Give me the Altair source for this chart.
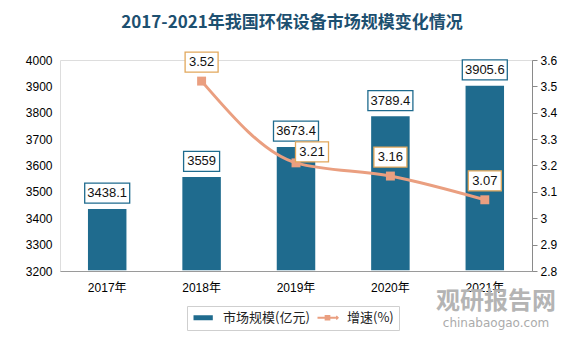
import altair as alt
import pandas as pd

years = ["2017年", "2018年", "2019年", "2020年", "2021年"]
market = [3438.1, 3559, 3673.4, 3789.4, 3905.6]
growth = [None, 3.52, 3.21, 3.16, 3.07]
series = ["市场规模(亿元)", "增速(%)"]
left_ticks = [3200, 3300, 3400, 3500, 3600, 3700, 3800, 3900, 4000]
right_ticks = [2.8, 2.9, 3.0, 3.1, 3.2, 3.3, 3.4, 3.5, 3.6]

BAR = "#1F6B8E"
LINE = "#EA9F80"
FONT = "Liberation Sans, Noto Sans CJK SC"
CJK = "Noto Sans CJK SC"

df = pd.DataFrame({"year": years, "market": market, "growth": growth})
leg = pd.DataFrame({"series": series})

W, H = 472, 211

xenc = alt.X("year:N", sort=years, title=None,
             scale=alt.Scale(paddingInner=0, paddingOuter=0),
             axis=alt.Axis(labelAngle=0, ticks=False, domainColor="#9a9a9a",
                           labelPadding=11, labelFontSize=12, labelColor="#000000",
                           labelFont=FONT, grid=False))
xplain = alt.X("year:N", sort=years)

lscale = alt.Scale(domain=[3200, 4000])
rscale = alt.Scale(domain=[2.8, 3.6])

base = alt.Chart(df)

bars = base.mark_bar(size=40, color=BAR, stroke="white", strokeWidth=1.5, clip=True).encode(
    x=xenc,
    y=alt.Y("market:Q", scale=lscale, title=None,
            axis=alt.Axis(values=left_ticks, format="d", domain=False, ticks=False,
                          grid=False, labelPadding=8, labelFontSize=12,
                          labelColor="#000000", labelFont=FONT)),
    y2=alt.Y2(datum=3200),
)

long_box = "M-4.5,-2H4.5V2H-4.5Z"
short_box = "M-3.6,-2H3.6V2H-3.6Z"
tiny_box = "M-3.3,-2H3.3V2H-3.3Z"

ylnone = alt.Y("market:Q", scale=lscale, axis=None)

bar_lab = base.transform_calculate(
    lbl="format(datum.market, '.1~f')", n="length(format(datum.market, '.1~f'))"
)
bar_box_long = bar_lab.transform_filter("datum.n > 4").mark_point(
    shape=long_box, size=100, filled=False, fill="white", fillOpacity=1,
    stroke=BAR, strokeWidth=1.3, opacity=1, yOffset=-15).encode(x=xplain, y=ylnone)
bar_box_short = bar_lab.transform_filter("datum.n <= 4").mark_point(
    shape=short_box, size=100, filled=False, fill="white", fillOpacity=1,
    stroke=BAR, strokeWidth=1.3, opacity=1, yOffset=-15).encode(x=xplain, y=ylnone)
bar_text = bar_lab.mark_text(font=FONT, fontSize=13, color="#111111",
                             baseline="middle", dy=-15).encode(
    x=xplain, y=ylnone, text="lbl:N")

gbase = base.transform_filter("isValid(datum.growth)")

line = gbase.mark_line(color=LINE, strokeWidth=3, interpolate="monotone").encode(
    x=xplain,
    y=alt.Y("growth:Q", scale=rscale, title=None,
            axis=alt.Axis(orient="right", values=right_ticks, format=".1~f",
                          domainColor="#8a8a8a", tickColor="#8a8a8a", tickSize=5,
                          labelPadding=3, grid=False, labelFontSize=12,
                          labelColor="#000000", labelFont=FONT)),
)
yrnone = alt.Y("growth:Q", scale=rscale, axis=None)
pts = gbase.mark_point(shape="square", size=80, filled=True, color=LINE, opacity=1).encode(
    x=xplain, y=yrnone)

g_lab = gbase.transform_calculate(lbl="format(datum.growth, '.2f')")
g_main = g_lab.transform_filter("datum.year != '2019年'")
g_side = g_lab.transform_filter("datum.year == '2019年'")

g_box1 = g_main.mark_point(shape=tiny_box, size=100, filled=False, fill="white",
                           fillOpacity=1, stroke="#E2A85C", strokeWidth=1.3, opacity=1,
                           yOffset=-19).encode(x=xplain, y=yrnone)
g_txt1 = g_main.mark_text(font=FONT, fontSize=13, color="#111111", baseline="middle",
                          dy=-19).encode(x=xplain, y=yrnone, text="lbl:N")
g_box2 = g_side.mark_point(shape=tiny_box, size=100, filled=False, fill="white",
                           fillOpacity=1, stroke="#E2A85C", strokeWidth=1.3, opacity=1,
                           xOffset=16, yOffset=-11).encode(x=xplain, y=yrnone)
g_txt2 = g_side.mark_text(font=FONT, fontSize=13, color="#111111", baseline="middle",
                          dx=16, dy=-11).encode(x=xplain, y=yrnone, text="lbl:N")

bar_sym = "M-1,-0.5H2.86V0.5H-1Z"
line_sym = ("M-1,-0.2H2.5V0.2H-1Z M0.43,-0.57H1.57V0.57H0.43Z "
            "M2.4,0L2.86,-0.45L3.3,0L2.86,0.45Z")

legend_props = dict(title=None, orient="none", direction="horizontal",
                    legendX=127, legendY=246, strokeColor="#cfcfcf",
                    padding=5, labelFont=CJK, labelFontSize=13,
                    labelColor="#222222", labelOffset=18,
                    columnPadding=6, symbolStrokeWidth=0, symbolOpacity=1)

legend_layer = alt.Chart(leg).mark_point(filled=True, size=196, clip=True, opacity=1).encode(
    x=alt.value(-2000), y=alt.value(-2000),
    color=alt.Color("series:N", sort=series,
                    scale=alt.Scale(domain=series, range=[BAR, LINE]),
                    legend=alt.Legend(**legend_props)),
    shape=alt.Shape("series:N", sort=series,
                    scale=alt.Scale(domain=series, range=[bar_sym, line_sym]),
                    legend=alt.Legend(**legend_props)),
)

wm1 = alt.Chart(leg).transform_filter("datum.series == '增速(%)'").mark_text(
    text="观研报告网", font=CJK, fontSize=24, fontWeight="bold", color="#b4b4b4",
    align="center", baseline="middle").encode(x=alt.value(436), y=alt.value(242))
wm2 = alt.Chart(leg).transform_filter("datum.series == '增速(%)'").mark_text(
    text="chinabaogao.com", font="DejaVu Sans", fontSize=12, color="#ababab",
    align="center", baseline="middle").encode(x=alt.value(436), y=alt.value(263))

chart = alt.layer(
    wm1, wm2, bars, bar_box_long, bar_box_short, bar_text, line, pts,
    g_box1, g_txt1, g_box2, g_txt2, legend_layer
).resolve_scale(y="independent").properties(
    width=W, height=H,
    autosize=alt.AutoSizeParams(type="none"),
    padding={"left": 60, "top": 60, "right": 51, "bottom": 81},
    title=alt.TitleParams("2017-2021年我国环保设备市场规模变化情况", anchor="middle",
                          font=CJK, fontSize=17, fontWeight="bold", color="#1D5070",
                          offset=18, dx=-4),
).configure_view(stroke=None, fill="#f3f3f3").configure(background="white")

chart.save("out.html", embed_options={"renderer": "svg", "actions": False})
